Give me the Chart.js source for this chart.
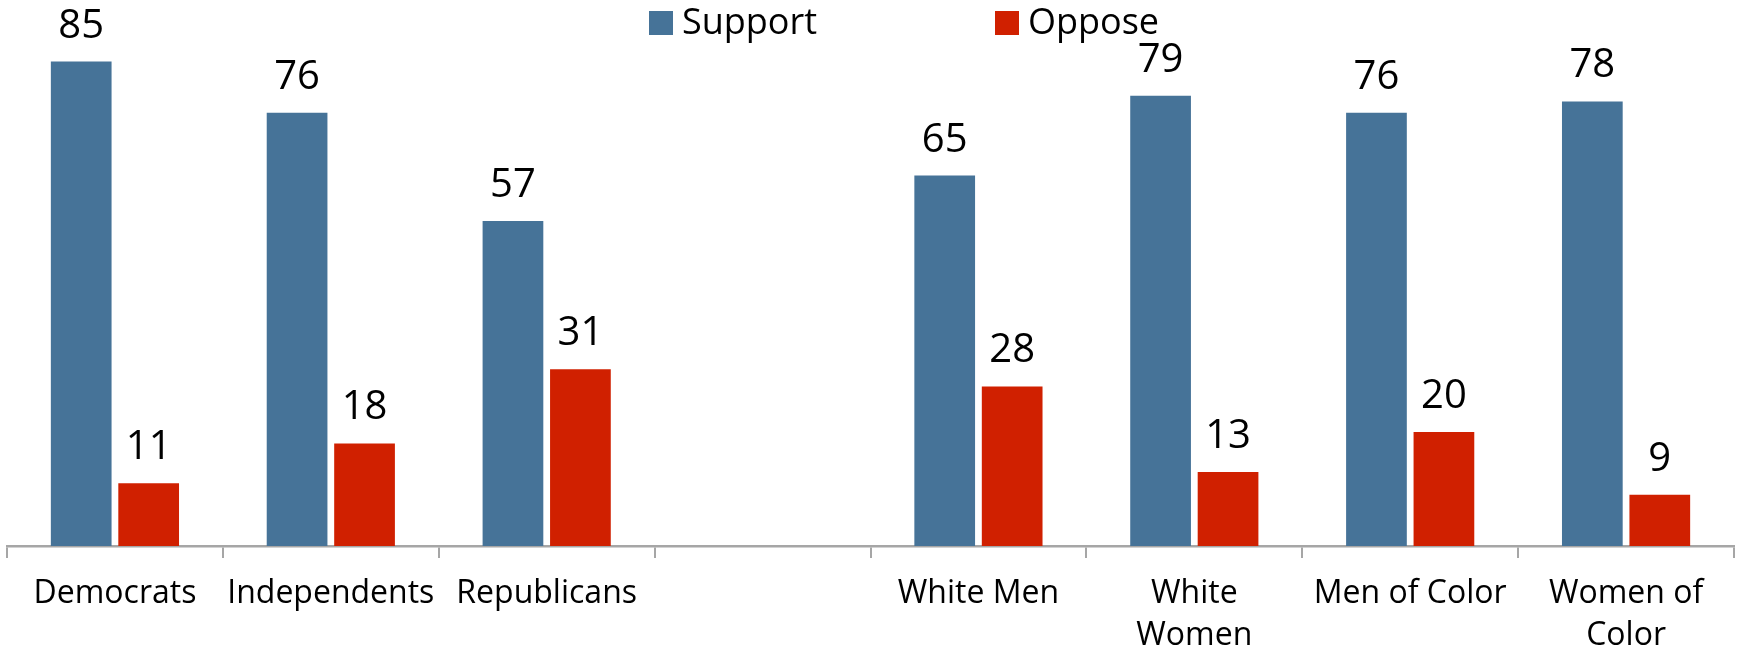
<!DOCTYPE html>
<html>
<head>
<meta charset="utf-8">
<script src="https://cdn.jsdelivr.net/npm/chart.js@4.4.1/dist/chart.umd.min.js"></script>
<style>
  html, body { margin: 0; padding: 0; background: #ffffff; }
  #wrap { width: 1737px; height: 656px; position: relative; }
</style>
</head>
<body>
<div id="wrap"><canvas id="c" width="1737" height="656"></canvas></div>
<script>
const categories = ['Democrats', 'Independents', 'Republicans', '', 'White Men', ['White', 'Women'], 'Men of Color', ['Women of', 'Color']];
const seriesNames = ['Support', 'Oppose'];
const supportValues = [85, 76, 57, null, 65, 79, 76, 78];
const opposeValues = [11, 18, 31, null, 28, 13, 20, 9];
const yMin = 0;
const yMax = 90;

const FONT = "'Open Sans', 'DejaVu Sans', sans-serif";
const SUPPORT_COLOR = '#467398';
const OPPOSE_COLOR = '#D02000';

const valueLabels = {
  id: 'valueLabels',
  afterDatasetsDraw(chart) {
    const ctx = chart.ctx;
    ctx.save();
    ctx.font = '40px ' + FONT;
    ctx.fillStyle = '#000';
    ctx.textAlign = 'center';
    ctx.textBaseline = 'alphabetic';
    chart.data.datasets.forEach((ds, di) => {
      const meta = chart.getDatasetMeta(di);
      meta.data.forEach((el, i) => {
        const v = ds.data[i];
        if (v === null || v === undefined) return;
        ctx.fillText(String(v), el.x, el.y - 24);
      });
    });
    ctx.restore();
  }
};

const topLegend = {
  id: 'topLegend',
  afterDraw(chart) {
    const ctx = chart.ctx;
    ctx.save();
    ctx.font = '36px ' + FONT;
    ctx.textBaseline = 'middle';
    ctx.textAlign = 'left';
    const items = [
      { x: 649, color: chart.data.datasets[0].backgroundColor, text: chart.data.datasets[0].label },
      { x: 995, color: chart.data.datasets[1].backgroundColor, text: chart.data.datasets[1].label }
    ];
    items.forEach(it => {
      ctx.fillStyle = it.color;
      ctx.fillRect(it.x, 11, 24, 24);
      ctx.fillStyle = '#000';
      ctx.fillText(it.text, it.x + 33, 24);
    });
    ctx.restore();
  }
};

new Chart(document.getElementById('c'), {
  type: 'bar',
  data: {
    labels: categories,
    datasets: [
      { label: seriesNames[0], data: supportValues, backgroundColor: SUPPORT_COLOR, barPercentage: 0.9, categoryPercentage: 0.625 },
      { label: seriesNames[1], data: opposeValues, backgroundColor: OPPOSE_COLOR, barPercentage: 0.9, categoryPercentage: 0.625 }
    ]
  },
  options: {
    responsive: false,
    animation: false,
    devicePixelRatio: 1,
    layout: { padding: { top: 33, left: 7, right: 3, bottom: 0 } },
    plugins: {
      legend: { display: false },
      tooltip: { enabled: false },
      title: { display: false }
    },
    scales: {
      x: {
        grid: { offset: true, drawOnChartArea: false, drawTicks: true, tickLength: 12, color: '#A6A6A6', lineWidth: 2 },
        border: { display: true, color: '#A6A6A6', width: 2.5 },
        ticks: {
          font: { family: FONT, size: 32, lineHeight: 1.34 },
          color: '#000',
          padding: 14,
          maxRotation: 0,
          minRotation: 0,
          autoSkip: false
        },
        afterFit(scale) { scale.height = 110; }
      },
      y: { display: false, min: yMin, max: yMax }
    }
  },
  plugins: [valueLabels, topLegend]
});
</script>
</body>
</html>
